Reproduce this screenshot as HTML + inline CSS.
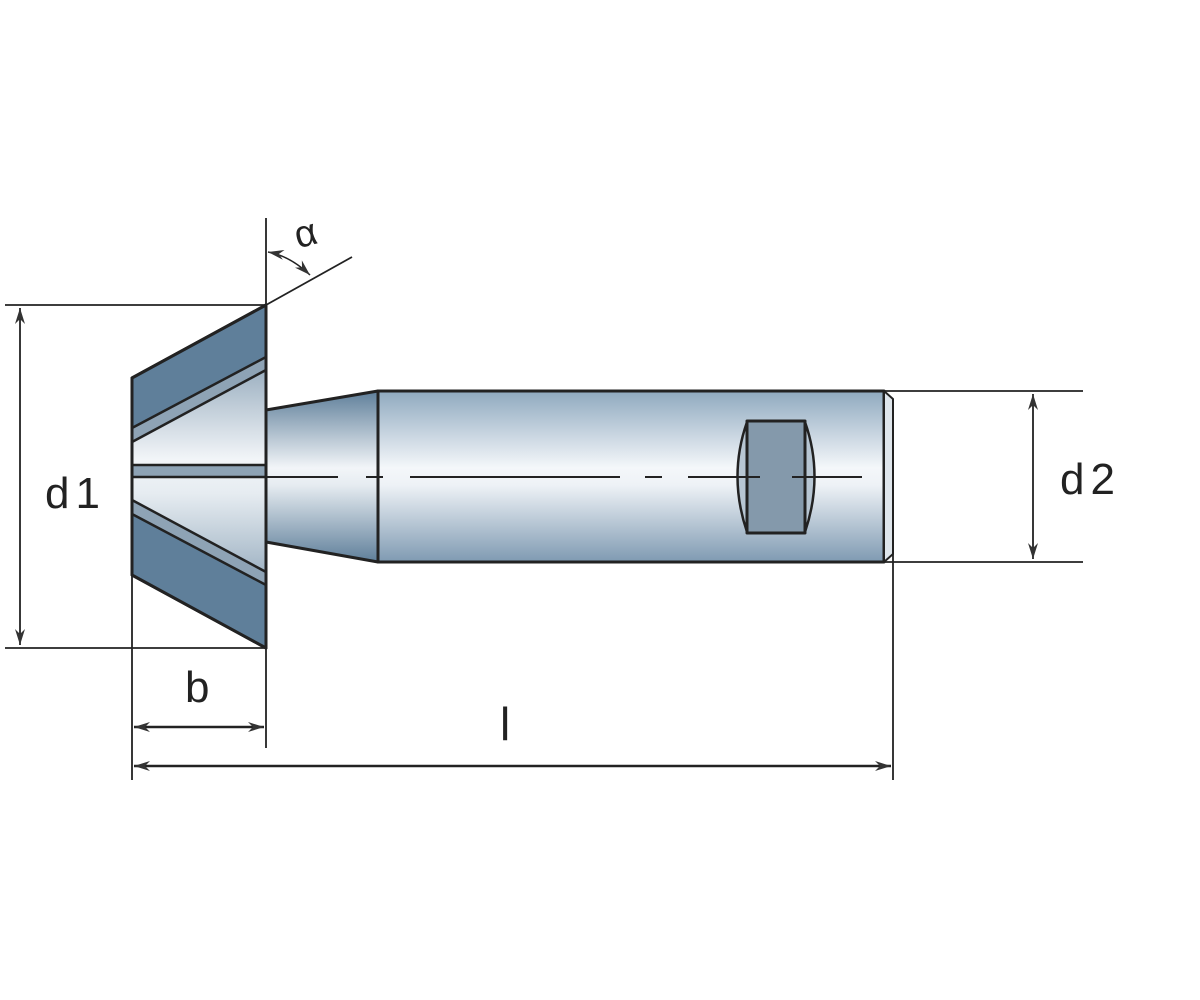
<!DOCTYPE html>
<html><head><style>html,body{margin:0;padding:0;background:#fff;}svg{display:block}</style></head>
<body>
<svg width="1200" height="1000" viewBox="0 0 1200 1000" xmlns="http://www.w3.org/2000/svg">
<defs>
<linearGradient id="g" x1="0" y1="0" x2="0" y2="1">
<stop offset="0" stop-color="#8fa9bf"/><stop offset="0.45" stop-color="#f4f7fa"/><stop offset="0.55" stop-color="#eef2f6"/><stop offset="1" stop-color="#7f9ab2"/>
</linearGradient>
<linearGradient id="gc" x1="0" y1="0" x2="0" y2="1">
<stop offset="0" stop-color="#5f7f9a"/><stop offset="0.45" stop-color="#f2f5f8"/><stop offset="0.55" stop-color="#e6ecf1"/><stop offset="1" stop-color="#5f7f9a"/>
</linearGradient>
<marker id="a" viewBox="0 0 16 10" refX="16" refY="5" markerWidth="16" markerHeight="10" orient="auto-start-reverse" markerUnits="userSpaceOnUse"><path d="M0,0 L16,5 L0,10 L5,5z" fill="#333"/></marker>
</defs>
<g stroke="#222" stroke-width="3" stroke-linejoin="round">
<polygon points="132,378 266,305 266,648 132,575" fill="url(#gc)"/>
<polygon points="132,378 266,305 266,357 132,428" fill="#5f7f9a" stroke="none"/>
<polygon points="132,514 266,585 266,648 132,575" fill="#5f7f9a" stroke="none"/>
<polygon points="132,428 266,357 266,370 132,442" fill="#8ea3b5" stroke-width="2.5"/>
<polygon points="132,500 266,572 266,585 132,514" fill="#8ea3b5" stroke-width="2.5"/>
<rect x="132" y="465" width="134" height="12" fill="#8ea3b5" stroke-width="2.5"/>
<polygon points="132,378 266,305 266,648 132,575" fill="none"/>
<polygon points="266,410 378,391 378,562 266,542" fill="url(#gc)"/>
<rect x="378" y="391" width="506" height="171" fill="url(#g)"/>
<polygon points="884,391 893,399 893,554 884,562" fill="#dfe6ec" stroke-width="2"/>
<path d="M747,422 Q728,476 747,532" fill="#b7c6d3" stroke-width="2.5"/>
<path d="M805,422 Q824,476 805,532" fill="#b7c6d3" stroke-width="2.5"/>
<rect x="747" y="421" width="58" height="112" fill="#8499ab" stroke-width="3"/>
</g>
<g stroke="#222" stroke-width="2">
<line x1="266" y1="477" x2="338" y2="477"/><line x1="366" y1="477" x2="383" y2="477"/>
<line x1="410" y1="477" x2="620" y2="477"/><line x1="645" y1="477" x2="662" y2="477"/>
<line x1="688" y1="477" x2="760" y2="477"/><line x1="792" y1="477" x2="862" y2="477"/>
</g>
<g stroke="#222" stroke-width="1.8" fill="none">
<line x1="5" y1="305" x2="266" y2="305"/>
<line x1="5" y1="648" x2="266" y2="648"/>
<line x1="20" y1="308" x2="20" y2="645" marker-start="url(#a)" marker-end="url(#a)"/>
<line x1="884" y1="391" x2="1083" y2="391"/>
<line x1="884" y1="562" x2="1083" y2="562"/>
<line x1="1033" y1="394" x2="1033" y2="559" marker-start="url(#a)" marker-end="url(#a)"/>
<line x1="132" y1="575" x2="132" y2="780"/>
<line x1="266" y1="218" x2="266" y2="748"/>
<line x1="893" y1="554" x2="893" y2="780"/>
<line x1="134" y1="727" x2="264" y2="727" marker-start="url(#a)" marker-end="url(#a)" stroke-width="2.5"/>
<line x1="134" y1="766" x2="891" y2="766" marker-start="url(#a)" marker-end="url(#a)" stroke-width="2.5"/>
<line x1="266" y1="305" x2="352" y2="257"/>
<path d="M268,252 Q290,256 310,275" marker-start="url(#a)" marker-end="url(#a)" stroke-width="1.5"/>
</g>
<g font-family="Liberation Sans, sans-serif" fill="#222" font-size="44">
<text x="45" y="508" letter-spacing="6">d1</text>
<text x="1060" y="494" letter-spacing="6">d2</text>
<text x="185" y="702">b</text>
<text x="500" y="740" font-size="46">l</text>
<text x="295" y="245" font-size="38" transform="rotate(-15 310 235)">α</text>
</g>
</svg>
</body></html>
